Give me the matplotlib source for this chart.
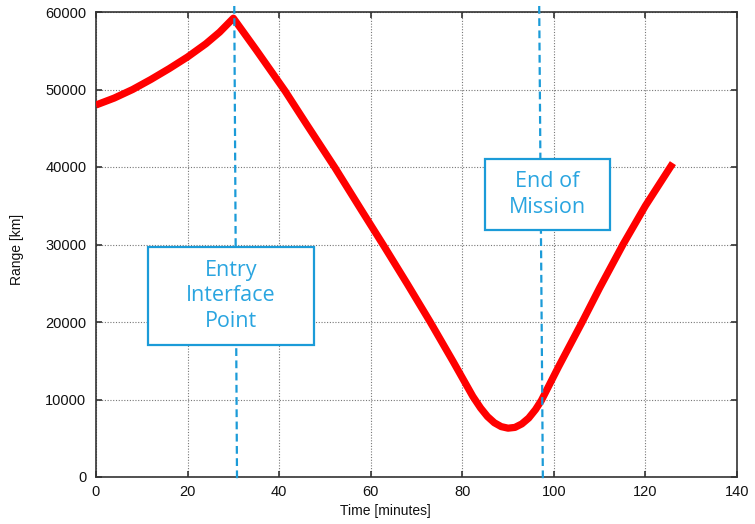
import matplotlib
matplotlib.use("Agg")
import matplotlib.pyplot as plt
from matplotlib.patches import Rectangle

# ---- data ----
time_min = [0, 4, 8, 12, 16, 20, 24, 27, 30, 35, 41.3, 46, 52.2, 58, 63.1, 68, 73, 78,
            82.3, 84, 85.5, 87, 88.5, 90, 91.5, 93, 94.5, 96, 97.3, 101, 106.1, 110,
            115.1, 120, 126]
range_km = [48000, 48900, 50000, 51300, 52700, 54200, 55900, 57400, 59200, 55100, 49800,
            45500, 39900, 34400, 29600, 24900, 20000, 14900, 10400, 8900, 7800, 7000,
            6500, 6300, 6400, 6850, 7600, 8700, 9900, 14200, 19900, 24400, 30000, 35000,
            40500]

x_ticks = [0, 20, 40, 60, 80, 100, 120, 140]
y_ticks = [0, 10000, 20000, 30000, 40000, 50000, 60000]

entry_time = (30.2, 30.8)     # dashed marker, top -> bottom
eom_time = (96.8, 97.6)
entry_label = "Entry\nInterface\nPoint"
eom_label = "End of\nMission"
entry_box = (11.35, 17030, 47.6, 29680)   # x0, y0, x1, y1
eom_box = (84.9, 31870, 112.2, 41030)

BLUE = "#1b9bd8"
TEXT_BLUE = "#2aa5e0"

fig = plt.figure(figsize=(7.55, 5.24), dpi=100)
ax = fig.add_axes([96 / 755, 47 / 524, 641 / 755, 465 / 524])

ax.plot(time_min, range_km, color="#ff0000", lw=5.2, solid_capstyle="butt",
        solid_joinstyle="round", zorder=3)

ax.set_xlim(0, 140)
ax.set_ylim(0, 60000)
ax.set_xticks(x_ticks)
ax.set_yticks(y_ticks)
ax.grid(True, linestyle=(0, (1, 1.5)), color="#777777", lw=0.8)
ax.set_axisbelow(True)

for s in ax.spines.values():
    s.set_color("#333333")
    s.set_linewidth(1.2)
ax.tick_params(direction="in", length=4, width=1.2, color="#333333",
               top=True, right=True, labelsize=10.5, labelcolor="#111111")
ax.tick_params(axis="y", pad=7)
ax.tick_params(axis="x", pad=6)
for lab in ax.get_xticklabels() + ax.get_yticklabels():
    lab.set_family(["Liberation Sans", "DejaVu Sans"])

ax.set_xlabel("Time [minutes]", fontsize=10, family=["Liberation Sans"], color="#111111")
ax.set_ylabel("Range [km]", fontsize=10, family=["Liberation Sans"], color="#111111")
ax.xaxis.set_label_coords((385 - 96) / 641, -(504 - 477) / 465)
ax.yaxis.set_label_coords(-(96 - 24) / 641, 0.49)

y_top = 60000 + 6 * (60000 / 465)
y_bot = -3 * (60000 / 465)
for xs in (entry_time, eom_time):
    ax.plot([xs[0], xs[1]], [y_top, y_bot], color=BLUE, lw=1.6,
            linestyle=(0, (3.5, 2)), clip_on=False, zorder=4)

for (x0, y0, x1, y1), label in ((entry_box, entry_label), (eom_box, eom_label)):
    ax.add_patch(Rectangle((x0, y0), x1 - x0, y1 - y0, facecolor="white",
                           edgecolor=BLUE, lw=1.6, zorder=5))
    ax.text((x0 + x1) / 2, (y0 + y1) / 2, label, ha="center", va="center",
            fontsize=15.5, color=TEXT_BLUE, family=["Open Sans", "DejaVu Sans"],
            fontweight="normal", linespacing=1.3, zorder=6)

fig.savefig("out.png", dpi=100)
